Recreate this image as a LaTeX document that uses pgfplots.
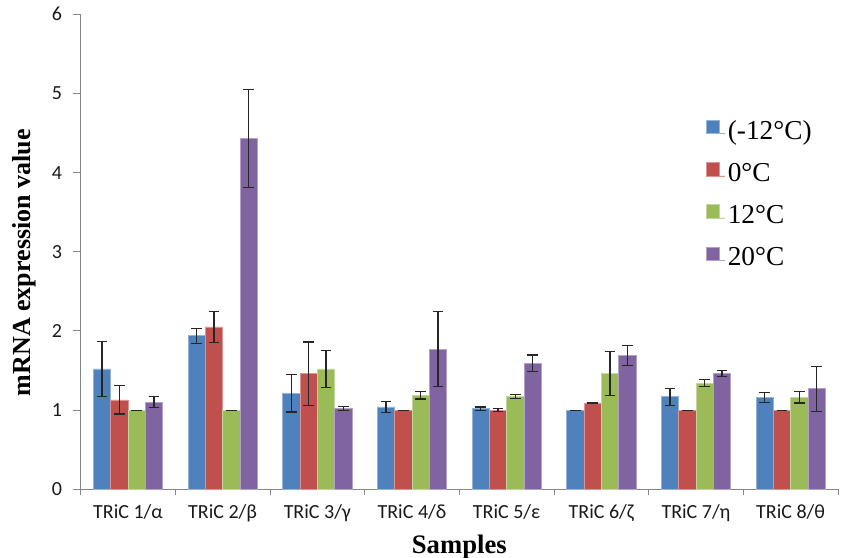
\documentclass[border=0pt]{standalone}
\usepackage{pgfplots}
\usepackage{pgfplotstable}
\pgfplotsset{compat=1.18}
\usepackage{fontspec}
\setmainfont{Liberation Serif}
\newfontfamily\calibri{Carlito}
\definecolor{cblue}{HTML}{4F81BD}
\definecolor{cred}{HTML}{C0504D}
\definecolor{cgreen}{HTML}{9BBB59}
\definecolor{cpurple}{HTML}{8064A2}
\definecolor{axisgray}{HTML}{868686}

\pgfplotstableread{
x y e
0 1.52 0.345
1 1.94 0.095
2 1.21 0.235
3 1.04 0.07
4 1.02 0.02
5 1.00 0
6 1.17 0.107
7 1.16 0.065
}\tblue
\pgfplotstableread{
x y e
0 1.13 0.18
1 2.05 0.195
2 1.46 0.40
3 1.00 0
4 1.00 0.02
5 1.09 0.005
6 1.00 0
7 1.00 0
}\tred
\pgfplotstableread{
x y e
0 1.00 0
1 1.00 0
2 1.52 0.23
3 1.19 0.05
4 1.17 0.023
5 1.46 0.28
6 1.34 0.042
7 1.16 0.07
}\tgreen
\pgfplotstableread{
x y e
0 1.10 0.067
1 4.43 0.616
2 1.02 0.03
3 1.77 0.475
4 1.59 0.107
5 1.69 0.13
6 1.46 0.04
7 1.27 0.285
}\tpurple

\pgfplotsset{
  sqlegend/.style={legend image code/.code={\fill[##1] (0pt,-2pt) rectangle (10pt,8pt); \path (0pt,-2pt) -- (14pt,-2pt);}},
}

\begin{document}
\begin{tikzpicture}
\begin{axis}[
  scale only axis,
  width=568pt, height=356.25pt,
  xmin=-0.5, xmax=7.5, ymin=0, ymax=6,
  ybar=0pt, bar width=13pt,
  axis lines*=left,
  axis line style={draw=axisgray, line width=0.75pt},
  tick align=outside,
  major tick length=6pt,
  minor tick length=4.5pt,
  xtick={0,...,7},
  xticklabels={TRiC 1/α, TRiC 2/β, TRiC 3/γ, TRiC 4/δ, TRiC 5/ε, TRiC 6/ζ, TRiC 7/η, TRiC 8/θ},
  minor xtick={-0.5,0.5,1.5,2.5,3.5,4.5,5.5,6.5,7.5},
  major x tick style={draw=none},
  minor x tick style={draw=axisgray, line width=0.75pt},
  ytick={0,1,2,3,4,5,6},
  ytick style={draw=axisgray, line width=0.75pt},
  /pgf/number format/assume math mode=true,
  ticklabel style={font=\calibri\fontsize{15}{18}\selectfont, text=black!90},
  yticklabel style={xshift=-4.5pt},
  xticklabel style={yshift=-2pt},
  xlabel={Samples},
  ylabel={mRNA expression value},
  xlabel style={font=\bfseries\fontsize{20}{24}\selectfont, at={(axis description cs:0.5,0)}, anchor=center, yshift=-43.3pt},
  ylabel style={font=\bfseries\fontsize{19.5}{23}\selectfont, at={(axis description cs:-0.0748,0.477)}, anchor=center},
  legend style={at={(rel axis cs:0.82,0.789)}, anchor=north west, draw=none, fill=none,
    font=\fontsize{20.5}{24}\selectfont, row sep=12.5pt},
  legend cell align=left,
  error bars/y dir=both,
  error bars/y explicit,
  error bars/error bar style={line width=0.9pt, black!85},
  error bars/error mark options={rotate=90, mark size=4pt, line width=0.9pt, black!85},
]
\addplot[fill=cblue, draw=cblue!60!white, line width=0.4pt, sqlegend] table[x=x, y=y, y error=e] {\tblue};
\addplot[fill=cred, draw=cred!60!white, line width=0.4pt, sqlegend] table[x=x, y=y, y error=e] {\tred};
\addplot[fill=cgreen, draw=cgreen!60!white, line width=0.4pt, sqlegend] table[x=x, y=y, y error=e] {\tgreen};
\addplot[fill=cpurple, draw=cpurple!60!white, line width=0.4pt, sqlegend] table[x=x, y=y, y error=e] {\tpurple};
\legend{(-12°C), 0°C, 12°C, 20°C}
\end{axis}
\pgfresetboundingbox
\path ([shift={(-60.5pt,-51.5pt)}]current axis.south west) rectangle ([shift={(2.25pt,10.7pt)}]current axis.north east);
\end{tikzpicture}
\end{document}
